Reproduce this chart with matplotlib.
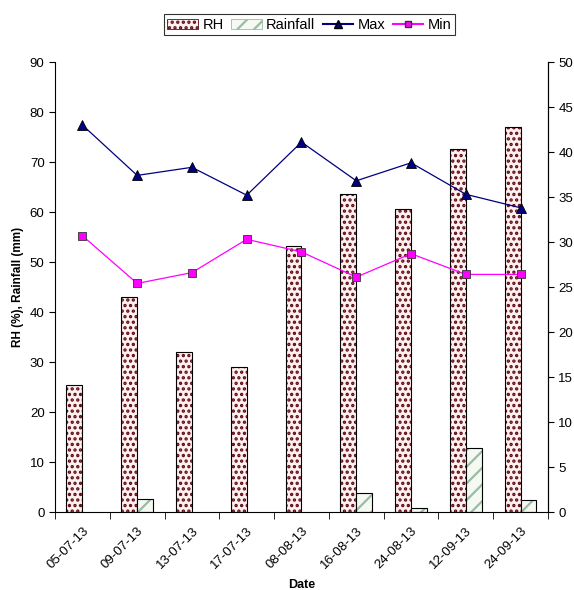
import numpy as np
import matplotlib
matplotlib.use('Agg')
import matplotlib.pyplot as plt
from matplotlib.patches import Patch
from matplotlib.lines import Line2D

# data
dates = ['05-07-13', '09-07-13', '13-07-13', '17-07-13', '08-08-13',
         '16-08-13', '24-08-13', '12-09-13', '24-09-13']
rh = [25.4, 43.0, 32.1, 29.0, 53.2, 63.6, 60.6, 72.7, 77.1]
rainfall = [0, 2.7, 0, 0, 0, 3.8, 0.8, 12.8, 2.5]
t_max = [43.0, 37.4, 38.3, 35.2, 41.1, 36.8, 38.8, 35.3, 33.8]
t_min = [30.7, 25.4, 26.6, 30.3, 28.9, 26.1, 28.7, 26.4, 26.4]

plt.rcParams['font.family'] = ['Liberation Sans', 'DejaVu Sans']
plt.rcParams['hatch.linewidth'] = 1.6

fig = plt.figure(figsize=(5.74, 5.9), dpi=100)
ax = fig.add_axes([0.0958, 0.1322, 0.8589, 0.7627])
ax2 = ax.twinx()

x = np.arange(len(dates))
w = 0.29

# RH bars: pink with dark dots
ax.bar(x - w / 2, rh, w, color='#fff0f0', edgecolor='#5c0a14', hatch='...', linewidth=0)
ax.bar(x - w / 2, rh, w, fill=False, edgecolor='black', linewidth=0.8)
# Rainfall bars: pale with green slashes
rain_x = [xi + w / 2 for xi, r in zip(x, rainfall) if r > 0]
rain_v = [r for r in rainfall if r > 0]
ax.bar(rain_x, rain_v, w, color='#f4faf2', edgecolor='#9bbba2', hatch='//', linewidth=0)
ax.bar(rain_x, rain_v, w, fill=False, edgecolor='black', linewidth=0.8)

ax2.plot(x, t_max, color='#000080', lw=0.9, marker='^', ms=7,
         markerfacecolor='#000080', markeredgecolor='black', markeredgewidth=0.6)
ax2.plot(x, t_min, color='#ff00ff', lw=0.9, marker='s', ms=6,
         markerfacecolor='#ff00ff', markeredgecolor='#333333', markeredgewidth=0.6)

ax.set_xlim(-0.5, len(dates) - 0.5)
ax.set_ylim(0, 90)
ax.set_yticks(range(0, 91, 10))
ax2.set_ylim(0, 50)
ax2.set_yticks(range(0, 51, 5))

ax.set_xticks(x)
ax.set_xticklabels(dates, rotation=45, ha='right', rotation_mode='anchor', fontsize=9.5)
ax.set_xticks(np.arange(-0.5, len(dates), 1), minor=True)
ax.tick_params(axis='x', which='major', length=0, pad=9)
ax.tick_params(axis='x', which='minor', length=5, direction='out')
ax.tick_params(axis='y', labelsize=9.5, direction='out', length=4)
ax2.tick_params(axis='y', labelsize=9.5, direction='out', length=4)

for a in (ax, ax2):
    a.spines['top'].set_visible(False)
ax2.spines['left'].set_visible(False)
ax2.spines['bottom'].set_visible(False)

ax.set_ylabel('RH (%), Rainfall (mm)', fontsize=8.5, fontweight='bold')
ax.set_xlabel('Date', fontsize=9, fontweight='bold', labelpad=6)

# legend
handles = [
    Patch(facecolor='#fff0f0', edgecolor='#5c0a14', hatch='...', lw=0.6),
    Patch(facecolor='#f4faf2', edgecolor='#9bbba2', hatch='//', lw=0.6),
    Line2D([], [], color='#000080', marker='^', markerfacecolor='#000080',
           markeredgecolor='black', ms=6),
    Line2D([], [], color='#ff00ff', marker='s', markerfacecolor='#ff00ff',
           markeredgecolor='#333333', ms=5),
]
leg = fig.legend(handles, ['RH', 'Rainfall', 'Max', 'Min'], loc='center',
                 bbox_to_anchor=(0.539, 0.958), ncol=4, fontsize=10.5, frameon=True,
                 fancybox=False, edgecolor='black', handlelength=2.1,
                 handletextpad=0.3, columnspacing=0.5, borderpad=0.25)
leg.get_frame().set_linewidth(0.8)

fig.savefig('out.png', dpi=100)
